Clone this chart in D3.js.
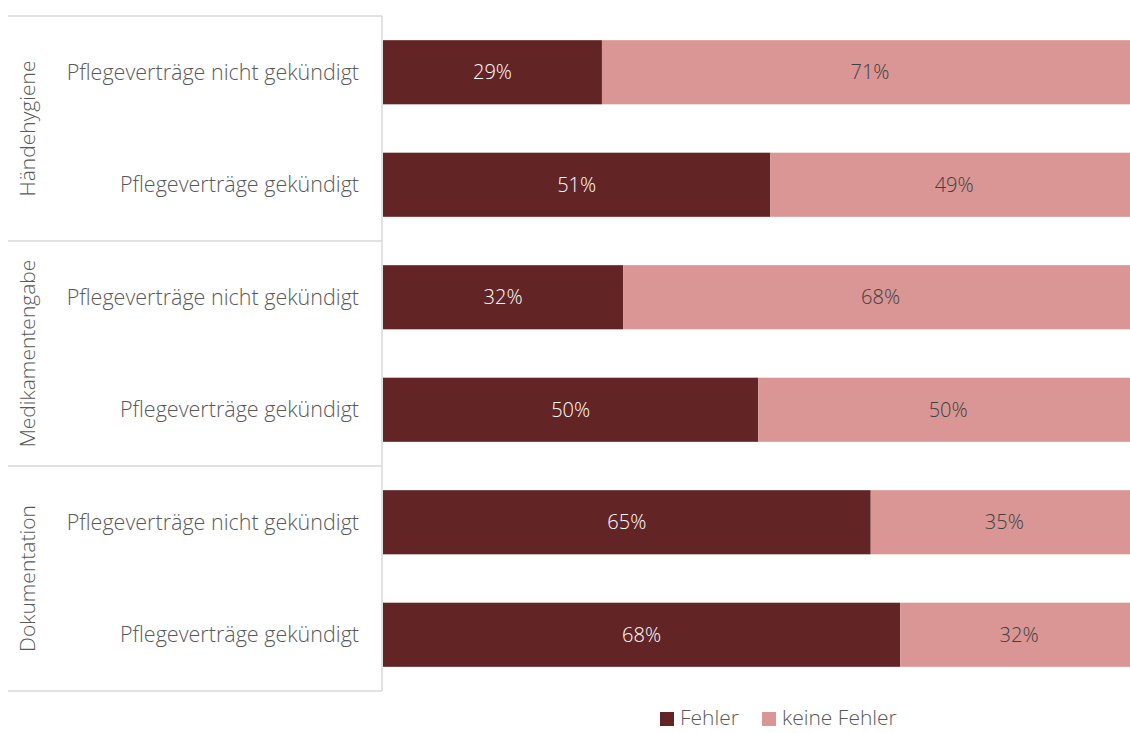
<!DOCTYPE html>
<html>
<head>
<meta charset="utf-8">
<script src="https://cdn.jsdelivr.net/npm/d3@7"></script>
<style>
  body { margin: 0; background: #fff; }
  svg { display: block; font-family: "Segoe UI", "Open Sans", sans-serif; font-weight: 300; }
</style>
</head>
<body>
<div id="chart"></div>
<script>
// groups and rows (top to bottom)
const groups = ["Händehygiene", "Medikamentengabe", "Dokumentation"];
const rowLabels = ["Pflegeverträge nicht gekündigt", "Pflegeverträge gekündigt"];
const series = ["Fehler", "keine Fehler"];

// share of "Fehler" per row
const fehler = [0.29, 0.513, 0.318, 0.497, 0.646, 0.685];
const keineFehler = fehler.map(v => 1 - v);
const labelsFehler = ["29%", "51%", "32%", "50%", "65%", "68%"];
const labelsKeine = ["71%", "49%", "68%", "50%", "35%", "32%"];

const colors = { "Fehler": "#632425", "keine Fehler": "#D99694" };

const W = 1130, H = 733;
const plotTop = 16, plotBottom = 691;
const plotLeft = 383, plotRight = 1138; // plot runs slightly past the window edge

const rows = [];
groups.forEach((g, gi) => rowLabels.forEach((r, ri) => rows.push({ id: gi * 2 + ri, group: g, label: r })));

const svg = d3.select("#chart").append("svg")
  .attr("width", W).attr("height", H);

const x = d3.scaleLinear().domain([0, 1]).range([plotLeft, plotRight]);
const y = d3.scaleBand()
  .domain(rows.map(d => d.id))
  .range([plotTop, plotBottom])
  .paddingInner(0.43)
  .paddingOuter(0.215);

// stacked segments
const stackData = rows.map((r, i) => ({ id: r.id, "Fehler": fehler[i], "keine Fehler": keineFehler[i] }));
const stacked = d3.stack().keys(series)(stackData);

const layers = svg.append("g").selectAll("g")
  .data(stacked)
  .enter().append("g")
  .attr("fill", d => colors[d.key]);

layers.selectAll("rect")
  .data(d => d)
  .enter().append("rect")
  .attr("x", d => x(d[0]))
  .attr("y", d => y(d.data.id))
  .attr("width", d => x(d[1]) - x(d[0]))
  .attr("height", y.bandwidth());

// value labels
const valueLabels = [labelsFehler, labelsKeine];
layers.selectAll("text")
  .data((d, li) => d.map((s, i) => ({ s, text: valueLabels[li][i], li })))
  .enter().append("text")
  .attr("x", d => (x(d.s[0]) + x(d.s[1])) / 2)
  .attr("y", d => y(d.s.data.id) + y.bandwidth() / 2)
  .attr("dy", "0.35em")
  .attr("text-anchor", "middle")
  .attr("font-size", 20)
  .attr("fill", d => d.li === 0 ? "#ffffff" : "#404040")
  .text(d => d.text);

// category axis: row labels
svg.append("g").selectAll("text")
  .data(rows)
  .enter().append("text")
  .attr("x", 359)
  .attr("y", d => y(d.id) + y.bandwidth() / 2)
  .attr("dy", "0.35em")
  .attr("text-anchor", "end")
  .attr("font-size", 21.5)
  .attr("fill", "#595959")
  .text(d => d.label);

// group separators and vertical axis line
const groupH = (plotBottom - plotTop) / groups.length;
const lines = svg.append("g").attr("stroke", "#d9d9d9").attr("stroke-width", 1.5);
d3.range(groups.length + 1).forEach(i => {
  const yy = plotTop + i * groupH;
  lines.append("line").attr("x1", 8).attr("x2", 382).attr("y1", yy).attr("y2", yy);
});
lines.append("line").attr("x1", 382).attr("x2", 382).attr("y1", plotTop).attr("y2", plotBottom);

// group labels (rotated)
svg.append("g").selectAll("text")
  .data(groups)
  .enter().append("text")
  .attr("transform", (d, i) => `translate(28, ${plotTop + groupH * (i + 0.5)}) rotate(-90)`)
  .attr("dy", "0.35em")
  .attr("text-anchor", "middle")
  .attr("font-size", 21)
  .attr("fill", "#595959")
  .text(d => d);

// legend
const legend = svg.append("g").attr("transform", "translate(660, 718)");
const legendX = [0, 102];
series.forEach((s, i) => {
  const g = legend.append("g").attr("transform", `translate(${legendX[i]}, 0)`);
  g.append("rect").attr("x", 0).attr("y", -6).attr("width", 14).attr("height", 14).attr("fill", colors[s]);
  g.append("text").attr("x", 20).attr("dy", "0.35em")
    .attr("font-size", 21).attr("fill", "#595959").text(s);
});
</script>
</body>
</html>
